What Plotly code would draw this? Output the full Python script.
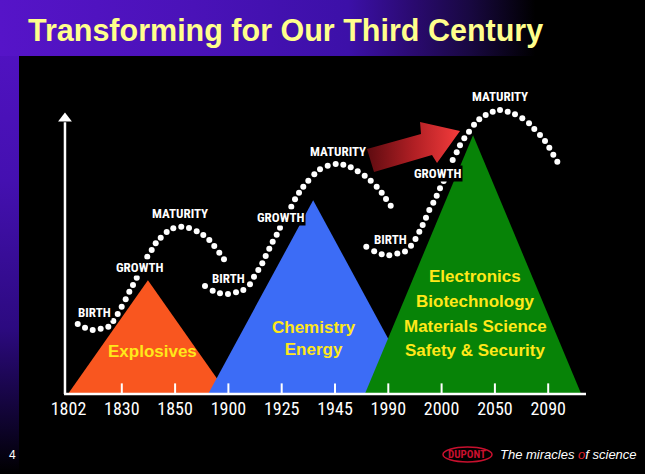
import plotly.graph_objects as go

# timeline labels, evenly spaced along the base (x = tick index)
years = ["1802", "1830", "1850", "1900", "1925", "1945", "1990", "2000", "2050", "2090"]

# three business waves drawn as triangles (x = tick index, y = level 0..100)
explosives_x = [-0.01, 1.49, 2.99]
explosives_y = [0, 28.9, 0]
chemistry_x = [2.62, 4.59, 6.56]
chemistry_y = [0, 49.2, 0]
science_x = [5.56, 7.59, 9.62]
science_y = [0, 65.7, 0]

# dotted life-cycle curves (birth -> growth -> maturity)
curve1_x = [0.173, 0.310, 0.454, 0.604, 0.747, 0.841, 0.923, 0.998, 1.073, 1.141, 1.210, 1.280,
            1.478, 1.561, 1.636, 1.730, 1.842, 1.966, 2.116, 2.261, 2.405, 2.529, 2.642, 2.735,
            2.829, 2.917]
curve1_y = [17.77, 16.83, 16.24, 16.57, 17.08, 18.53, 20.30, 22.16, 24.04, 25.96, 27.66, 29.52,
            34.85, 36.55, 38.25, 39.67, 41.12, 42.06, 42.46, 42.13, 41.29, 40.36, 39.09, 37.56,
            35.86, 34.19]
curve2_x = [2.561, 2.705, 2.842, 2.992, 3.143, 3.280, 3.405, 3.480, 3.561, 3.636, 3.700, 3.767,
            3.831, 3.906, 3.968, 4.180, 4.250, 4.325, 4.405, 4.499, 4.612, 4.719, 4.863, 5.013,
            5.156, 5.295, 5.426, 5.557, 5.670, 5.782, 5.876, 5.957, 6.045]
curve2_y = [27.41, 26.22, 25.56, 25.38, 25.81, 26.40, 27.84, 29.77, 31.47, 33.17, 35.03, 36.88,
            38.65, 40.43, 42.21, 47.54, 49.42, 51.09, 52.61, 54.14, 55.76, 57.03, 57.94, 58.38,
            58.20, 57.54, 56.52, 55.41, 54.14, 52.61, 51.09, 49.49, 47.79]
curve3_x = [5.587, 5.735, 5.876, 6.019, 6.169, 6.313, 6.426, 6.510, 6.582, 6.645, 6.707, 6.769,
            6.844, 6.908, 6.970, 7.039, 7.208, 7.283, 7.345, 7.426, 7.514, 7.608, 7.707, 7.827,
            7.959, 8.096, 8.240, 8.377, 8.514, 8.640, 8.739, 8.846, 8.940, 9.021, 9.096, 9.171]
curve3_y = [37.39, 36.22, 35.48, 35.23, 35.66, 36.17, 37.64, 39.34, 41.19, 42.89, 44.75, 46.70,
            48.55, 50.33, 52.21, 54.06, 59.39, 61.35, 63.12, 64.90, 66.57, 68.35, 69.72, 70.81,
            71.65, 72.08, 71.65, 70.99, 69.97, 68.71, 67.26, 65.74, 64.21, 62.51, 60.74, 58.96]

# phase labels along the curves
phase_text = ["BIRTH", "GROWTH", "MATURITY"] * 3
phase_x = [0.488, 1.341, 2.086, 3.002, 3.981, 5.056, 6.032, 6.923, 8.096]
phase_y = [20.74, 32.23, 45.94, 29.44, 44.92, 61.60, 39.34, 56.09, 75.63]

# transition arrow outline
arrow_x = [5.600, 6.614, 6.595, 7.345, 6.914, 6.820, 5.732, 5.600]
arrow_y = [62.18, 65.99, 69.04, 66.75, 58.63, 60.66, 56.35, 62.18]

# business names inside each wave
wave_text = ["Explosives", "Chemistry<br>Energy", "Electronics", "Biotechnology",
             "Materials Science", "Safety & Security"]
wave_text_x = [1.585, 4.597, 7.627, 7.627, 7.627, 7.627]
wave_text_y = [10.9, 14.2, 29.77, 23.43, 17.26, 11.17]

W, H = 645, 474
X_RANGE = [-1.2852, 10.8161]
Y_RANGE = [-20.3, 100]
PANEL_TOP = 85.79      # level of the black panel's top edge
PANEL_LEFT = -0.9287   # x of the black panel's left edge

NARROW = "Roboto Condensed, DejaVu Sans Condensed, Liberation Sans, Arial"
SANS = "Liberation Sans, Arial, sans-serif"

fig = go.Figure()

# purple slide background (gradients)
fig.add_trace(go.Scatter(
    x=[X_RANGE[0], X_RANGE[1], X_RANGE[1], X_RANGE[0], X_RANGE[0]],
    y=[Y_RANGE[1], Y_RANGE[1], PANEL_TOP, PANEL_TOP, Y_RANGE[1]],
    mode="lines", line=dict(width=0), fill="toself",
    fillgradient=dict(type="horizontal", colorscale=[
        [0, "#5614c8"], [0.3, "#4a12b8"], [0.54, "#3c10a8"], [0.64, "#2a0a70"],
        [0.73, "#180840"], [0.83, "#000000"], [1, "#000000"]]),
    hoverinfo="skip", showlegend=False))
fig.add_trace(go.Scatter(
    x=[X_RANGE[0], PANEL_LEFT, PANEL_LEFT, X_RANGE[0], X_RANGE[0]],
    y=[Y_RANGE[0], Y_RANGE[0], PANEL_TOP, PANEL_TOP, Y_RANGE[0]],
    mode="lines", line=dict(width=0), fill="toself",
    fillgradient=dict(type="vertical", colorscale=[
        [0, "#000000"], [0.1, "#0c0326"], [0.35, "#2c0a80"], [0.7, "#4410b0"], [1, "#5012c0"]]),
    hoverinfo="skip", showlegend=False))

# waves
for xs, ys, color in [(explosives_x, explosives_y, "#F9561F"),
                      (chemistry_x, chemistry_y, "#3C6CF6"),
                      (science_x, science_y, "#078307")]:
    fig.add_trace(go.Scatter(x=xs, y=ys, mode="lines", line=dict(width=0),
                             fill="toself", fillcolor=color,
                             hoverinfo="skip", showlegend=False))

# red transition arrow
fig.add_trace(go.Scatter(
    x=arrow_x, y=arrow_y, mode="lines", line=dict(width=0), fill="toself",
    fillgradient=dict(type="horizontal", colorscale=[
        [0, "#5e0b10"], [0.5, "#b01f24"], [1, "#f43c3c"]]),
    hoverinfo="skip", showlegend=False))

# dotted curves
for xs, ys in [(curve1_x, curve1_y), (curve2_x, curve2_y), (curve3_x, curve3_y)]:
    fig.add_trace(go.Scatter(x=xs, y=ys, mode="markers",
                             marker=dict(color="white", size=6, line=dict(width=0)),
                             hoverinfo="skip", showlegend=False))

# vertical axis with arrow head
fig.add_trace(go.Scatter(x=[-0.066, -0.066], y=[0, 69], mode="lines",
                         line=dict(color="white", width=2.5),
                         hoverinfo="skip", showlegend=False))
fig.add_trace(go.Scatter(x=[-0.066], y=[69.9], mode="markers",
                         marker=dict(symbol="triangle-up", size=12, color="white"),
                         hoverinfo="skip", showlegend=False))

# base line and tick marks
fig.add_shape(type="line", x0=-0.084, x1=9.709, y0=0, y1=0,
              line=dict(color="white", width=2.5))
for i in range(1, len(years)):
    fig.add_shape(type="line", x0=i, x1=i, y0=0, y1=2.7,
                  line=dict(color="white", width=2))

for t, x, y in zip(phase_text, phase_x, phase_y):
    fig.add_annotation(x=x, y=y, text=t, showarrow=False, bgcolor="black", borderpad=0,
                       font=dict(family=NARROW, size=13, color="white", weight="bold"))

for t, x, y in zip(wave_text, wave_text_x, wave_text_y):
    fig.add_annotation(x=x, y=y, text=t, showarrow=False,
                       font=dict(family=SANS, size=17, color="#FFE81A", weight="bold"))

# title
fig.add_annotation(xref="paper", yref="paper", x=26 / W, y=1 - 30 / H,
                   xanchor="left", yanchor="middle", showarrow=False,
                   text="Transforming for Our Third Century",
                   font=dict(family=SANS, size=30.5, color="#FFFF8C", weight="bold"))

# footer
fig.add_annotation(xref="paper", yref="paper", x=12 / W, y=1 - 455 / H, showarrow=False,
                   xanchor="center", yanchor="middle",
                   text="4", font=dict(family=SANS, size=12, color="white"))
fig.add_shape(type="circle", xref="paper", yref="paper",
              x0=443 / W, x1=492 / W, y0=1 - 462 / H, y1=1 - 447 / H,
              line=dict(color="#C8102E", width=1.5))
fig.add_annotation(xref="paper", yref="paper", x=467.5 / W, y=1 - 454.5 / H, showarrow=False,
                   xanchor="center", yanchor="middle",
                   text="DUPONT", font=dict(family=NARROW, size=11, color="#C8102E", weight="bold"))
fig.add_annotation(xref="paper", yref="paper", x=498 / W, y=1 - 454 / H, showarrow=False,
                   xanchor="left", yanchor="middle",
                   text="<i>The miracles <span style='color:#e0202a'>o</span>f science</i>",
                   font=dict(family=SANS, size=13, color="white"))

fig.update_xaxes(range=X_RANGE, domain=[0, 1], anchor="free", position=80 / H,
                 showgrid=False, zeroline=False, showline=False, ticks="",
                 tickmode="array", tickvals=list(range(len(years))), ticktext=years,
                 tickfont=dict(family=NARROW, size=18, color="white"),
                 ticklabelstandoff=2, fixedrange=True)
fig.update_yaxes(range=Y_RANGE, domain=[0, 1], visible=False, fixedrange=True)

fig.update_layout(width=W, height=H, margin=dict(l=0, r=0, t=0, b=0),
                  paper_bgcolor="black", plot_bgcolor="black", showlegend=False)

fig.write_html("out.html", config={"displayModeBar": False},
               post_script="document.body.style.margin='0';document.body.style.background='black';")
